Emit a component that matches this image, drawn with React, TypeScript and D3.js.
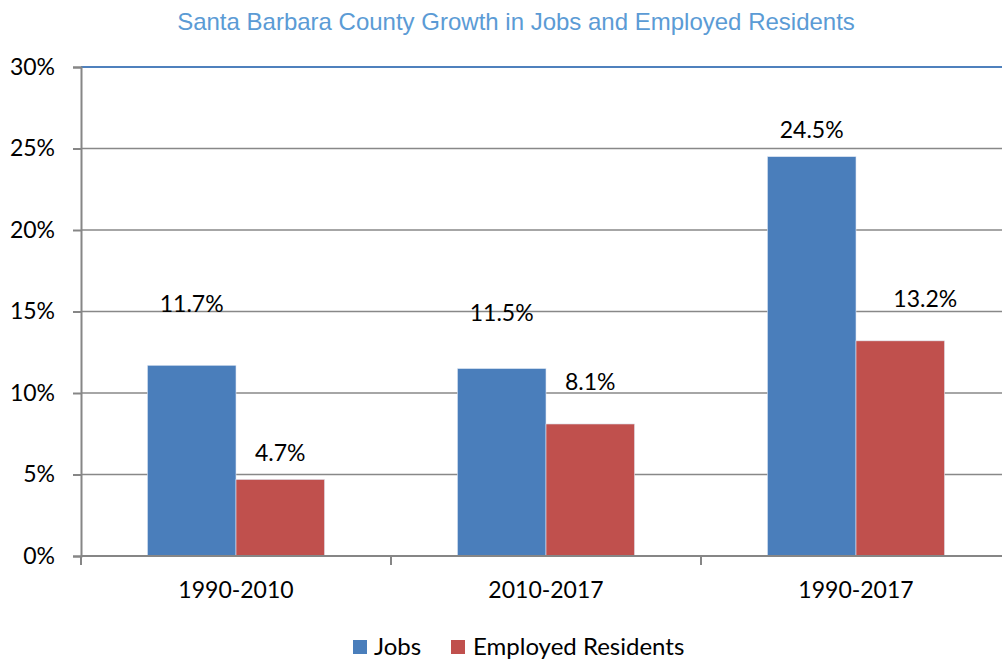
import React, { useEffect, useRef } from "react";
import * as d3 from "d3";

const categories = ["1990-2010", "2010-2017", "1990-2017"];
const seriesNames = ["Jobs", "Employed Residents"];
const jobs = [11.7, 11.5, 24.5];
const employedResidents = [4.7, 8.1, 13.2];
const yTicks = [0, 5, 10, 15, 20, 25, 30];

const colors = ["#4A7EBB", "#C0504D"];
// data labels were dragged around by hand in the original, so nudge them
const labelOffsets = [
  [[0, -53], [0, -48], [0, -19]],
  [[0, -18], [0, -34], [25, -34]],
];

const FONT = "Lato, 'Open Sans', sans-serif";

export default function App() {
  const yAxisRef = useRef<SVGGElement>(null);
  const width = 1002;
  const height = 660;

  const x0 = d3.scaleBand().domain(categories).range([81, 1011]);
  const x1 = d3
    .scaleBand()
    .domain(seriesNames)
    .range([0, x0.bandwidth()])
    .paddingOuter(0.75);
  const y = d3.scaleLinear().domain([0, 30]).range([556, 67]);

  const series = [jobs, employedResidents];

  useEffect(() => {
    const g = d3.select(yAxisRef.current);
    g.selectAll("*").remove();
    g.call(
      d3
        .axisLeft(y)
        .tickValues(yTicks)
        .tickSize(8)
        .tickPadding(18)
        .tickFormat((d) => d + "%")
    );
    g.select(".domain").attr("stroke", "#868686").attr("stroke-width", 2);
    g.selectAll(".tick line").attr("stroke", "#868686").attr("stroke-width", 2);
    g.selectAll(".tick text")
      .attr("font-family", FONT)
      .attr("font-size", 23)
      .attr("fill", "#000");
  }, []);

  return (
    <svg
      width={width}
      height={height}
      style={{ position: "absolute", left: 0, top: 0, background: "#fff" }}
    >
      <text
        x={516}
        y={30}
        textAnchor="middle"
        fontFamily="'Liberation Sans', Arial, sans-serif"
        fontSize={24}
        fill="#5B9BD5"
      >
        Santa Barbara County Growth in Jobs and Employed Residents
      </text>

      {/* gridlines */}
      {yTicks.slice(1, -1).map((t) => (
        <line
          key={t}
          x1={81}
          x2={width}
          y1={y(t)}
          y2={y(t)}
          stroke="#888"
          strokeWidth={1.6}
        />
      ))}
      <line x1={81} x2={width} y1={y(30)} y2={y(30)} stroke="#4F81BD" strokeWidth={2.2} />

      {/* bars */}
      {series.map((vals, si) =>
        vals.map((v, ci) => (
          <rect
            key={si + "-" + ci}
            x={x0(categories[ci])! + x1(seriesNames[si])!}
            y={y(v)}
            width={x1.bandwidth()}
            height={y(0) - y(v)}
            fill={colors[si]}
            stroke="#dfe8f3"
            strokeWidth={0.6}
          />
        ))
      )}

      {/* x axis */}
      <line x1={81} x2={width} y1={y(0)} y2={y(0)} stroke="#868686" strokeWidth={2} />
      {categories.map((c) => (
        <g key={c}>
          <line
            x1={x0(c)!}
            x2={x0(c)!}
            y1={y(0)}
            y2={y(0) + 9}
            stroke="#868686"
            strokeWidth={2}
          />
          <text
            x={x0(c)! + x0.bandwidth() / 2}
            y={598}
            textAnchor="middle"
            fontFamily={FONT}
            fontSize={23}
            fill="#000"
          >
            {c}
          </text>
        </g>
      ))}

      <g ref={yAxisRef} transform="translate(81,0)" />

      {/* data labels */}
      {series.map((vals, si) =>
        vals.map((v, ci) => (
          <text
            key={"l" + si + "-" + ci}
            x={x0(categories[ci])! + x1(seriesNames[si])! + x1.bandwidth() / 2 + labelOffsets[si][ci][0]}
            y={y(v) + labelOffsets[si][ci][1]}
            textAnchor="middle"
            fontFamily={FONT}
            fontSize={23}
            fill="#000"
          >
            {v.toFixed(1)}%
          </text>
        ))
      )}

      {/* legend */}
      <g fontFamily={FONT} fontSize={24} fill="#000">
        <rect x={353} y={640} width={14} height={14} fill={colors[0]} />
        <text x={374} y={655}>{seriesNames[0]}</text>
        <rect x={451} y={640} width={14} height={14} fill={colors[1]} />
        <text x={473} y={655}>{seriesNames[1]}</text>
      </g>
    </svg>
  );
}
